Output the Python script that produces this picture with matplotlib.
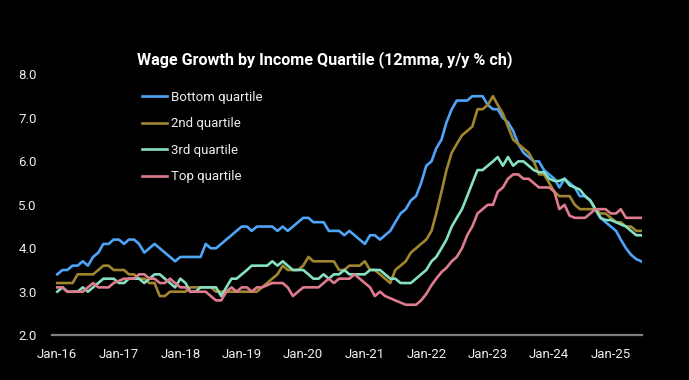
import pandas as pd
import matplotlib
matplotlib.use("Agg")
import matplotlib.pyplot as plt
import matplotlib.dates as mdates

# monthly, Jan-16 .. Jul-25 (12-month moving average, y/y %)
months = pd.date_range("2016-01-01", periods=115, freq="MS")

bottom = [3.4, 3.5, 3.5, 3.6, 3.6, 3.7, 3.6, 3.8, 3.9, 4.1, 4.1, 4.2,
          4.2, 4.1, 4.2, 4.2, 4.1, 3.9, 4.0, 4.1, 4.0, 3.9, 3.8, 3.7,
          3.8, 3.8, 3.8, 3.8, 3.8, 4.1, 4.0, 4.0, 4.1, 4.2, 4.3, 4.4,
          4.5, 4.5, 4.4, 4.5, 4.5, 4.5, 4.5, 4.4, 4.5, 4.4, 4.5, 4.6,
          4.7, 4.7, 4.6, 4.6, 4.6, 4.4, 4.4, 4.4, 4.3, 4.4, 4.3, 4.2,
          4.1, 4.3, 4.3, 4.2, 4.3, 4.4, 4.6, 4.8, 4.9, 5.1, 5.2, 5.5,
          5.9, 6.0, 6.3, 6.5, 6.9, 7.2, 7.4, 7.4, 7.4, 7.5, 7.5, 7.5,
          7.3, 7.2, 7.2, 7.0, 6.9, 6.7, 6.4, 6.2, 6.1, 6.0, 6.0, 5.8,
          5.7, 5.6, 5.4, 5.6, 5.5, 5.4, 5.2, 5.2, 5.1, 4.9, 4.7, 4.6,
          4.5, 4.4, 4.2, 4.0, 3.85, 3.75, 3.7]

second = [3.2, 3.2, 3.2, 3.2, 3.4, 3.4, 3.4, 3.4, 3.5, 3.6, 3.6, 3.5,
          3.5, 3.5, 3.4, 3.4, 3.3, 3.3, 3.2, 3.2, 2.9, 2.9, 3.0, 3.0,
          3.0, 3.0, 3.1, 3.1, 3.1, 3.1, 3.1, 3.0, 3.0, 3.0, 3.0, 3.0,
          3.0, 3.0, 3.0, 3.0, 3.1, 3.2, 3.3, 3.4, 3.6, 3.5, 3.5, 3.5,
          3.6, 3.8, 3.7, 3.7, 3.7, 3.7, 3.7, 3.5, 3.5, 3.6, 3.6, 3.6,
          3.7, 3.5, 3.5, 3.4, 3.3, 3.2, 3.5, 3.6, 3.7, 3.9, 4.0, 4.1,
          4.2, 4.4, 4.8, 5.3, 5.8, 6.2, 6.4, 6.6, 6.7, 6.8, 7.2, 7.2,
          7.3, 7.5, 7.3, 7.1, 6.8, 6.5, 6.4, 6.3, 6.2, 6.0, 5.7, 5.7,
          5.5, 5.3, 5.2, 5.2, 5.2, 5.0, 4.9, 4.9, 4.9, 4.9, 4.8, 4.8,
          4.7, 4.6, 4.6, 4.5, 4.5, 4.4, 4.4]

third = [3.0, 3.1, 3.0, 3.0, 3.0, 3.1, 3.0, 3.1, 3.2, 3.3, 3.3, 3.3,
         3.2, 3.2, 3.3, 3.3, 3.3, 3.2, 3.3, 3.4, 3.4, 3.3, 3.2, 3.1,
         3.3, 3.2, 3.0, 3.0, 3.1, 3.1, 3.1, 3.1, 2.9, 3.1, 3.3, 3.3,
         3.4, 3.5, 3.6, 3.6, 3.6, 3.6, 3.7, 3.6, 3.7, 3.6, 3.5, 3.5,
         3.5, 3.4, 3.3, 3.3, 3.4, 3.3, 3.4, 3.4, 3.5, 3.4, 3.4, 3.4,
         3.4, 3.5, 3.5, 3.5, 3.4, 3.3, 3.3, 3.2, 3.2, 3.2, 3.3, 3.4,
         3.5, 3.7, 3.8, 4.0, 4.2, 4.5, 4.7, 4.9, 5.2, 5.5, 5.8, 5.8,
         5.9, 6.0, 6.1, 5.9, 6.1, 5.9, 6.0, 6.0, 5.9, 5.8, 5.75, 5.75,
         5.6, 5.55, 5.55, 5.6, 5.45, 5.4, 5.35, 5.2, 5.1, 4.9, 4.7, 4.65,
         4.65, 4.6, 4.55, 4.5, 4.4, 4.3, 4.3]

top = [3.1, 3.1, 3.0, 3.0, 3.0, 3.0, 3.1, 3.2, 3.1, 3.1, 3.1, 3.2,
       3.25, 3.3, 3.3, 3.3, 3.4, 3.4, 3.3, 3.3, 3.2, 3.2, 3.3, 3.2,
       3.1, 3.1, 3.0, 3.0, 3.0, 3.0, 2.9, 2.8, 2.8, 3.0, 3.1, 3.0,
       3.1, 3.1, 3.0, 3.1, 3.1, 3.15, 3.2, 3.2, 3.2, 3.1, 2.9, 3.0,
       3.1, 3.1, 3.1, 3.1, 3.2, 3.3, 3.2, 3.3, 3.3, 3.3, 3.4, 3.3,
       3.2, 3.1, 2.9, 3.0, 2.9, 2.85, 2.8, 2.75, 2.7, 2.7, 2.7, 2.8,
       2.95, 3.15, 3.3, 3.45, 3.55, 3.7, 3.8, 4.0, 4.3, 4.5, 4.8, 4.9,
       5.0, 5.0, 5.3, 5.4, 5.6, 5.7, 5.7, 5.6, 5.6, 5.5, 5.4, 5.4,
       5.4, 5.3, 4.9, 5.0, 4.75, 4.7, 4.7, 4.7, 4.8, 4.9, 4.9, 4.9,
       4.8, 4.8, 4.9, 4.7, 4.7, 4.7, 4.7]

labels = ["Bottom quartile", "2nd quartile", "3rd quartile", "Top quartile"]
colors = ["#4EA5F7", "#A0862E", "#86E0C2", "#DE7C8E"]

plt.rcParams["font.family"] = ["Roboto", "DejaVu Sans"]

fig = plt.figure(figsize=(6.89, 3.80), dpi=100, facecolor="black")
ax = fig.add_axes([0.0755, 0.118, 0.857, 0.686], facecolor="black")

for series, lab, col in zip([bottom, second, third, top], labels, colors):
    ax.plot(months, series, color=col, lw=1.9, label=lab, solid_joinstyle="round")

ax.set_ylim(2, 8)
ax.set_yticks([2, 3, 4, 5, 6, 7, 8])
ax.yaxis.set_major_formatter(matplotlib.ticker.FormatStrFormatter("%.1f"))
ax.set_xlim(pd.Timestamp("2015-12-01"), pd.Timestamp("2025-07-08"))
ax.set_xticks(pd.date_range("2016-01-01", "2025-01-01", freq="YS"))
ax.xaxis.set_major_formatter(mdates.DateFormatter("%b-%y"))

for side in ["top", "right", "left"]:
    ax.spines[side].set_visible(False)
ax.spines["bottom"].set_color("#7F7F7F")
ax.spines["bottom"].set_linewidth(1.6)
ax.tick_params(axis="both", length=0, colors="#EDEDED", labelsize=9.5)
ax.tick_params(axis="y", pad=11)
ax.tick_params(axis="x", pad=9)

fig.text(325 / 689, 1 - 60 / 380, "Wage Growth by Income Quartile (12mma, y/y % ch)",
         color="white", fontsize=11.6, fontweight="bold", ha="center", va="center")

leg = ax.legend(loc="upper left", bbox_to_anchor=(142 / 689, 1 - 91 / 380),
                bbox_transform=fig.transFigure, frameon=False, fontsize=9.5,
                labelspacing=1.02, handlelength=1.9, handletextpad=0.3,
                borderaxespad=0, borderpad=0)
for t in leg.get_texts():
    t.set_color("#EDEDED")

fig.savefig("out.png", dpi=100, facecolor="black")
